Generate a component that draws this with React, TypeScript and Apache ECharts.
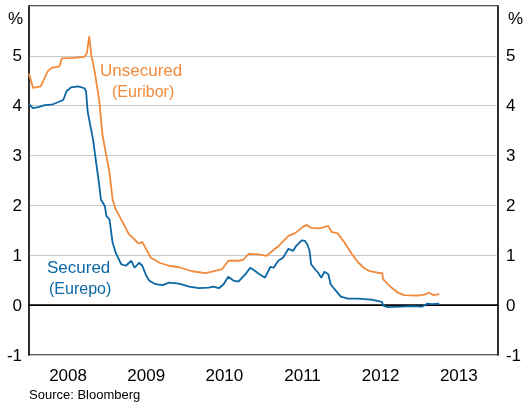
import React, { useEffect, useRef } from "react";
import * as echarts from "echarts";

const years = ["2008", "2009", "2010", "2011", "2012", "2013"];
const yTicks = [-1, 0, 1, 2, 3, 4, 5, 6];

// Unsecured (Euribor): decimal year, per cent
const euriborDates = [
  2008.0, 2008.05, 2008.15, 2008.2, 2008.24, 2008.29, 2008.39, 2008.42, 2008.58, 2008.71,
  2008.74, 2008.77, 2008.8, 2008.84, 2008.9, 2008.94, 2008.99, 2009.03, 2009.07, 2009.11,
  2009.2, 2009.28, 2009.35, 2009.39, 2009.42, 2009.45, 2009.5, 2009.56, 2009.67, 2009.79,
  2009.92, 2010.09, 2010.26, 2010.34, 2010.47, 2010.55, 2010.68, 2010.75, 2010.81, 2010.94,
  2011.04, 2011.11, 2011.19, 2011.32, 2011.4, 2011.49, 2011.55, 2011.61, 2011.72, 2011.83,
  2011.87, 2011.95, 2012.04, 2012.12, 2012.21, 2012.29, 2012.36, 2012.46, 2012.52, 2012.53,
  2012.61, 2012.72, 2012.8, 2012.97, 2013.06, 2013.12, 2013.18, 2013.25,
];
const euriborValues = [
  4.64, 4.36, 4.39, 4.56, 4.69, 4.76, 4.79, 4.95, 4.96, 4.98,
  5.05, 5.39, 4.99, 4.69, 4.09, 3.42, 2.99, 2.66, 2.12, 1.92,
  1.66, 1.42, 1.32, 1.25, 1.24, 1.27, 1.12, 0.95, 0.85, 0.79,
  0.76, 0.68, 0.64, 0.67, 0.72, 0.89, 0.89, 0.92, 1.03, 1.02,
  0.99, 1.08, 1.18, 1.39, 1.44, 1.55, 1.61, 1.55, 1.54, 1.59,
  1.47, 1.44, 1.25, 1.05, 0.86, 0.74, 0.68, 0.65, 0.64, 0.52,
  0.39, 0.25, 0.2, 0.19, 0.21, 0.25, 0.2, 0.22,
];

// Secured (Eurepo): decimal year, per cent
const eurepoDates = [
  2008.0, 2008.05, 2008.12, 2008.2, 2008.29, 2008.37, 2008.44, 2008.48, 2008.54, 2008.63,
  2008.71, 2008.73, 2008.75, 2008.77, 2008.82, 2008.86, 2008.9, 2008.92, 2008.97, 2008.99,
  2009.03, 2009.07, 2009.11, 2009.18, 2009.24, 2009.31, 2009.35, 2009.41, 2009.45, 2009.5,
  2009.54, 2009.62, 2009.71, 2009.79, 2009.92, 2010.05, 2010.17, 2010.3, 2010.36, 2010.43,
  2010.49, 2010.55, 2010.62, 2010.68, 2010.77, 2010.83, 2010.89, 2010.94, 2011.02, 2011.09,
  2011.13, 2011.19, 2011.25, 2011.32, 2011.38, 2011.42, 2011.49, 2011.53, 2011.56, 2011.59,
  2011.61, 2011.66, 2011.7, 2011.74, 2011.78, 2011.83, 2011.86, 2011.91, 2011.99, 2012.08,
  2012.21, 2012.38, 2012.5, 2012.52, 2012.53, 2012.59, 2012.76, 2012.89, 2013.03, 2013.1,
  2013.16, 2013.25,
];
const eurepoValues = [
  4.03, 3.95, 3.97, 4.01, 4.02, 4.07, 4.12, 4.29, 4.37, 4.39,
  4.35, 4.29, 3.89, 3.72, 3.32, 2.85, 2.39, 2.12, 1.99, 1.79,
  1.72, 1.25, 1.05, 0.82, 0.79, 0.89, 0.75, 0.85, 0.79, 0.59,
  0.49, 0.42, 0.4, 0.45, 0.43, 0.37, 0.34, 0.35, 0.37, 0.34,
  0.42, 0.57, 0.49, 0.47, 0.62, 0.75, 0.69, 0.63, 0.55, 0.77,
  0.75, 0.89, 0.95, 1.13, 1.09, 1.19, 1.3, 1.29, 1.22, 1.09,
  0.82, 0.72, 0.65, 0.55, 0.67, 0.62, 0.42, 0.32, 0.17, 0.13,
  0.13, 0.11, 0.07, 0.06, -0.01, -0.04, -0.03, -0.02, -0.03, 0.03,
  0.02, 0.03,
];

const ORANGE = "#F08A3C";
const BLUE = "#0C67A5";
const FONT = "'Liberation Sans', Arial, sans-serif";

export default function App() {
  const ref = useRef<HTMLDivElement>(null);
  useEffect(() => {
    if (!ref.current) return;
    const chart = echarts.init(ref.current, null, { renderer: "svg" });
    const yLabel = {
      fontSize: 17,
      color: "#000",
      fontFamily: FONT,
      formatter: (v: number) => (v === yTicks[yTicks.length - 1] ? "" : String(v)),
    };
    chart.setOption({
      animation: false,
      textStyle: { fontFamily: FONT },
      grid: {
        left: 29,
        right: 22,
        top: 6,
        bottom: 48,
        show: true,
        borderColor: "#222",
        borderWidth: 1.5,
      },
      xAxis: [
        {
          type: "category",
          data: years,
          boundaryGap: true,
          position: "bottom",
          axisLine: { lineStyle: { color: "#000", width: 1.5 } },
          axisTick: { inside: true, length: 5, lineStyle: { color: "#555" } },
          axisLabel: { fontSize: 17, color: "#000", fontFamily: FONT, margin: 12 },
          splitLine: { show: false },
        },
        {
          type: "value",
          min: 2008,
          max: 2014,
          show: false,
        },
      ],
      yAxis: [
        {
          type: "value",
          min: yTicks[0],
          max: yTicks[yTicks.length - 1],
          interval: 1,
          position: "left",
          axisLine: { show: true, lineStyle: { color: "#222", width: 1.5 } },
          axisTick: { show: false },
          axisLabel: { ...yLabel, margin: 7 },
          splitLine: { show: true, lineStyle: { color: "#c8c8c8", width: 1 } },
        },
        {
          type: "value",
          min: yTicks[0],
          max: yTicks[yTicks.length - 1],
          interval: 1,
          position: "right",
          axisLine: { show: true, lineStyle: { color: "#222", width: 1.5 } },
          axisTick: { show: false },
          axisLabel: { ...yLabel, margin: 8 },
          splitLine: { show: false },
        },
      ],
      series: [
        {
          type: "line",
          name: "Unsecured (Euribor)",
          xAxisIndex: 1,
          yAxisIndex: 0,
          data: euriborDates.map((d, i) => [d, euriborValues[i]]),
          showSymbol: false,
          symbol: "none",
          lineStyle: { color: ORANGE, width: 1.8 },
          itemStyle: { color: ORANGE },
          z: 3,
        },
        {
          type: "line",
          name: "Secured (Eurepo)",
          xAxisIndex: 1,
          yAxisIndex: 0,
          data: eurepoDates.map((d, i) => [d, eurepoValues[i]]),
          showSymbol: false,
          symbol: "none",
          lineStyle: { color: BLUE, width: 1.8 },
          itemStyle: { color: BLUE },
          z: 4,
          markLine: {
            silent: true,
            symbol: "none",
            label: { show: false },
            lineStyle: { color: "#000", width: 1.2, type: "solid" },
            data: [{ yAxis: 0 }],
            z: 2,
          },
        },
      ],
      graphic: [
        { type: "text", left: 8, top: 10, style: { text: "%", fill: "#000", font: `17px ${FONT}` } },
        { type: "text", left: 508, top: 10, style: { text: "%", fill: "#000", font: `17px ${FONT}` } },
        { type: "text", left: 100, top: 62, style: { text: "Unsecured", fill: ORANGE, font: `17px ${FONT}` } },
        { type: "text", left: 112, top: 83, style: { text: "(Euribor)", fill: ORANGE, font: `16px ${FONT}` } },
        { type: "text", left: 47, top: 259, style: { text: "Secured", fill: BLUE, font: `17px ${FONT}` } },
        { type: "text", left: 49, top: 280, style: { text: "(Eurepo)", fill: BLUE, font: `16px ${FONT}` } },
        { type: "text", left: 29, top: 388, style: { text: "Source: Bloomberg", fill: "#000", font: `13px ${FONT}` } },
      ],
    });
    return () => chart.dispose();
  }, []);
  return <div ref={ref} style={{ width: 524, height: 403, position: "fixed", left: 0, top: 0 }} />;
}
